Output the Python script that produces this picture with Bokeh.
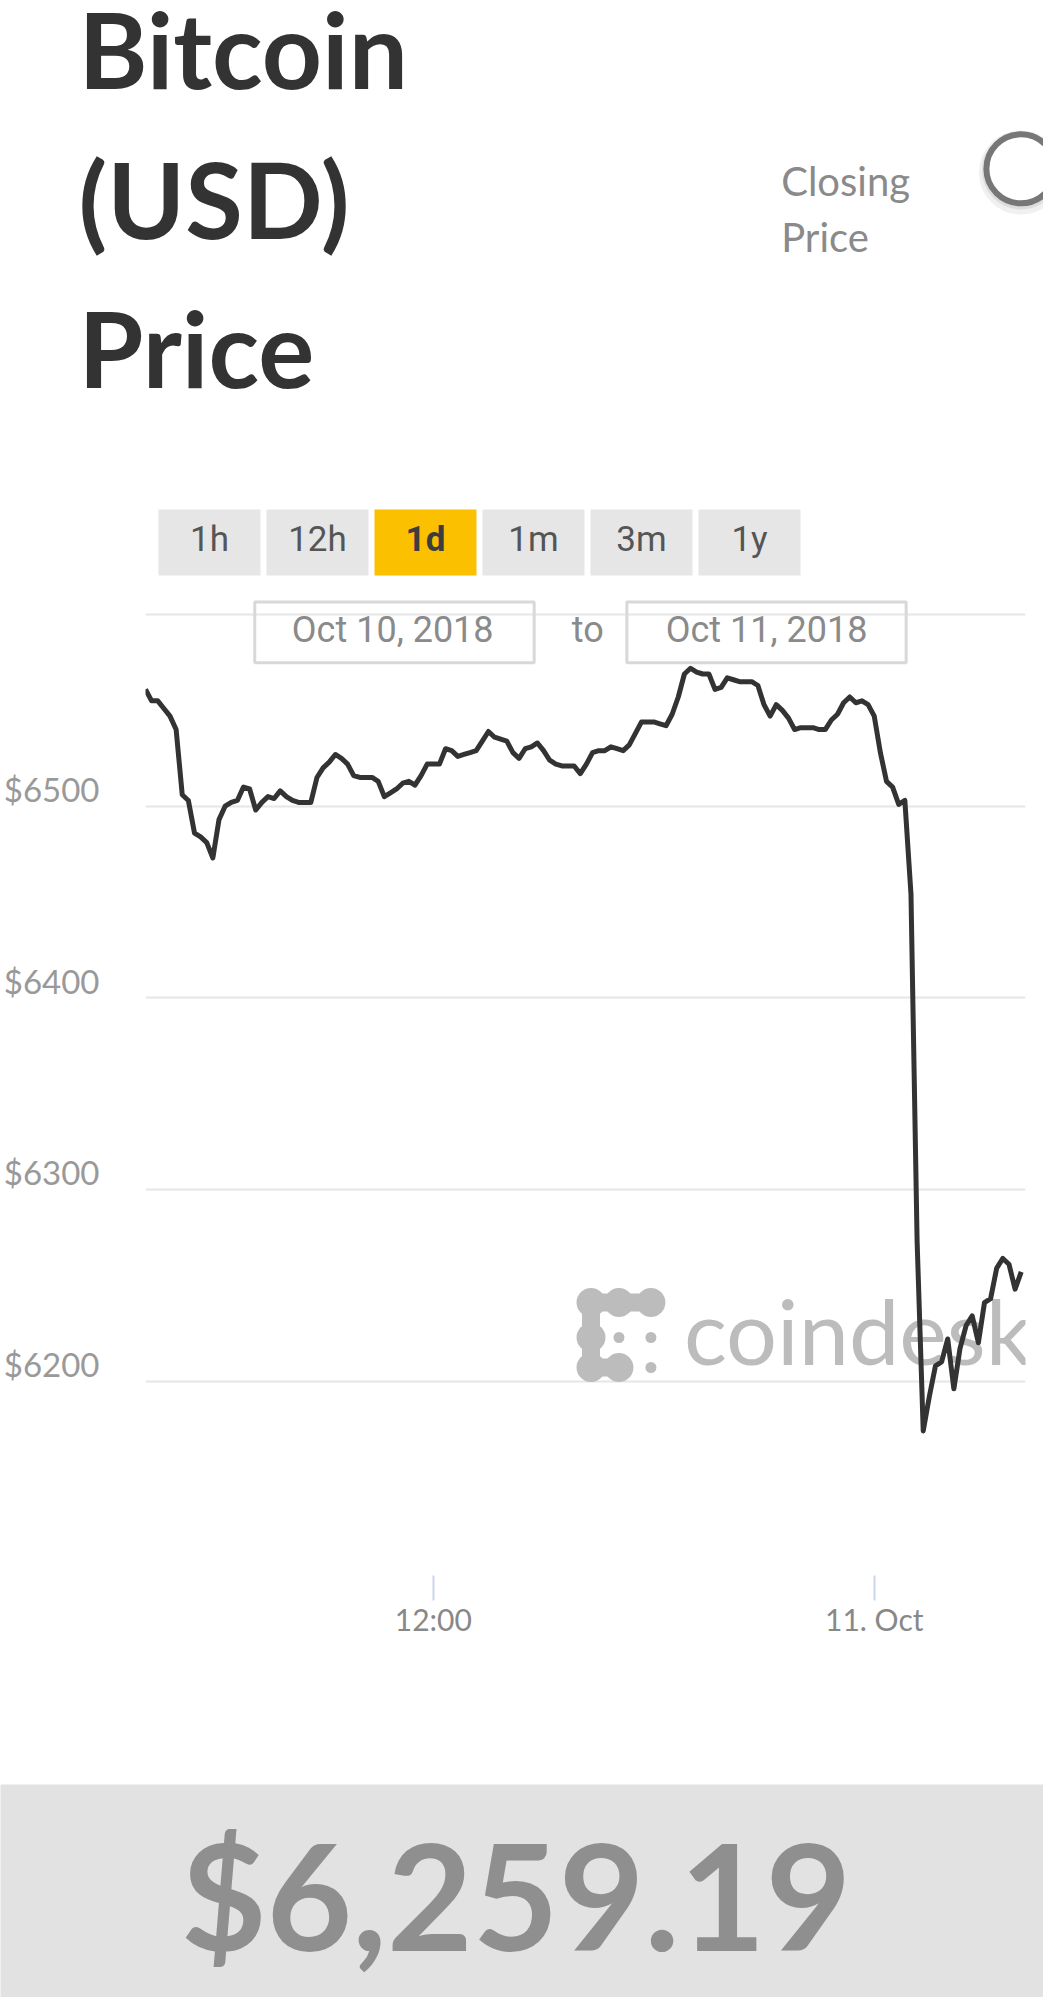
import pandas as pd
from bokeh.plotting import figure
from bokeh.layouts import column
from bokeh.models import Range1d, FixedTicker, LinearAxis, Grid
from bokeh.core.properties import value
from bokeh.embed import file_html
from bokeh.resources import INLINE

# ---------------- data ----------------
oct10_times = [
    "04:10", "04:20", "04:30", "04:40", "04:50",
    "05:00", "05:10", "05:20", "05:30", "05:40", "05:50",
    "06:00", "06:10", "06:20", "06:30", "06:40", "06:50",
    "07:00", "07:10", "07:20", "07:30", "07:40", "07:50",
    "08:00", "08:10", "08:20", "08:30", "08:40", "08:50",
    "09:00", "09:10", "09:20", "09:30", "09:40", "09:50",
    "10:00", "10:10", "10:20", "10:30", "10:40", "10:50",
    "11:00", "11:10", "11:20", "11:30", "11:40", "11:50",
    "12:00", "12:10", "12:20", "12:30", "12:40", "12:50",
    "13:00", "13:10", "13:20", "13:30", "13:40", "13:50",
    "14:00", "14:10", "14:20", "14:30", "14:40", "14:50",
    "15:00", "15:10", "15:20", "15:30", "15:40", "15:50",
    "16:00", "16:10", "16:20", "16:30", "16:40", "16:50",
    "17:00", "17:10", "17:20", "17:30", "17:40", "17:50",
    "18:00", "18:10", "18:20", "18:30", "18:40", "18:50",
    "19:00", "19:10", "19:20", "19:30", "19:40", "19:50",
    "20:00", "20:10", "20:20", "20:30", "20:40", "20:50",
    "21:00", "21:10", "21:20", "21:30", "21:40", "21:50",
    "22:00", "22:10", "22:20", "22:30", "22:40", "22:50",
    "23:00", "23:10", "23:20", "23:30", "23:40", "23:50",
]
oct10_prices = [
    6561, 6555, 6555, 6551, 6547,
    6540, 6506, 6503, 6486, 6484, 6481,
    6473, 6493, 6500, 6502, 6503, 6510,
    6509, 6498, 6502, 6505, 6504, 6508,
    6505, 6503, 6502, 6502, 6502, 6515,
    6520, 6523, 6527, 6525, 6522, 6516,
    6515, 6515, 6515, 6513, 6505, 6507,
    6509, 6512, 6513, 6511, 6516, 6522,
    6522, 6522, 6530, 6529, 6526, 6527,
    6528, 6529, 6534, 6539, 6536, 6535,
    6534, 6528, 6525, 6530, 6531, 6533,
    6529, 6524, 6522, 6521, 6521, 6521,
    6517, 6522, 6528, 6529, 6529, 6531,
    6530, 6529, 6532, 6538, 6544, 6544,
    6544, 6543, 6542, 6548, 6557, 6569,
    6572, 6570, 6569, 6569, 6561, 6562,
    6567, 6566, 6565, 6565, 6565, 6563,
    6553, 6547, 6553, 6550, 6546, 6540,
    6541, 6541, 6541, 6540, 6540, 6545,
    6548, 6554, 6557, 6554, 6555, 6553,
]
oct11_times = [
    "00:00", "00:10", "00:20", "00:30", "00:40", "00:50",
    "01:00", "01:10", "01:20", "01:30", "01:40", "01:50",
    "02:00", "02:10", "02:20", "02:30", "02:40", "02:50",
    "03:00", "03:10", "03:20", "03:30", "03:40", "03:50",
    "04:00",
]
oct11_prices = [
    6547, 6528, 6513, 6510, 6501, 6503,
    6454, 6273, 6174, 6192, 6208, 6210,
    6222, 6196, 6217, 6229, 6234, 6220,
    6241, 6243, 6259, 6264, 6261, 6248,
    6257,
]

y_ticks = [6200, 6300, 6400, 6500]
y_tick_labels = ["$6200", "$6300", "$6400", "$6500"]
grid_values = [6200, 6300, 6400, 6500, 6600]
x_tick_times = ["2018-10-10 12:00", "2018-10-11 00:00"]
x_tick_labels = ["12:00", "11. Oct"]
range_labels = ["1h", "12h", "1d", "1m", "3m", "1y"]
selected_range = "1d"
date_from = "Oct 10, 2018"
date_to = "Oct 11, 2018"
title_lines = ["Bitcoin", "(USD)", "Price"]
subtitle_lines = ["Closing", "Price"]
last_price = "$6,259.19"
watermark = "coindesk"

times = pd.to_datetime(["2018-10-10 " + t for t in oct10_times] +
                       ["2018-10-11 " + t for t in oct11_times])
prices = oct10_prices + oct11_prices

W = 1043
DARK = "#333333"
GREY_TXT = "#8a8a8a"
SANS = "Lato"


def bare(fig):
    for g in fig.grid:
        g.visible = False
    fig.outline_line_color = None
    return fig


# ---------------- header ----------------
H_A = 598
pa = bare(figure(width=W, height=H_A, x_range=Range1d(0, W), y_range=Range1d(H_A, 0),
                 output_backend="svg", toolbar_location=None, title=None,
                 x_axis_location=None, y_axis_location=None, min_border=0,
                 frame_align=False))

pa.text(x=[78, 78, 78], y=[47.5, 197.5, 346.5], text=title_lines,
        text_font=value(SANS), text_font_style="bold", text_font_size=value("105px"),
        text_color=DARK, text_baseline="alphabetic", text_align="left")

pa.text(x=[780.7, 780.7], y=[180.2, 236.5], text=subtitle_lines,
        text_font=value(SANS), text_font_size=value("40px"),
        text_color=GREY_TXT, text_baseline="alphabetic", text_align="left")

# toggle circle with soft shadow
pa.circle(x=[1020.4], y=[172.0], radius=36, fill_color=None,
          line_color="black", line_alpha=0.06, line_width=12)
pa.circle(x=[1020.4], y=[170.0], radius=35, fill_color=None,
          line_color="black", line_alpha=0.08, line_width=8)
pa.circle(x=[1020.4], y=[168.3], radius=34.5, fill_color="white",
          line_color="#777777", line_width=6)

# range buttons
lefts = [158 + i * 108 for i in range(len(range_labels))]
rights = [l + 102 for l in lefts]
centers = [l + 51 for l in lefts]
fills = ["#fbc000" if r == selected_range else "#e6e6e6" for r in range_labels]
pa.quad(left=lefts, right=rights, top=[509] * 6, bottom=[575] * 6,
        fill_color=fills, line_color=None)
for c, lab in zip(centers, range_labels):
    sel = lab == selected_range
    pa.text(x=[c], y=[539], text=[lab], text_font=value("Roboto"),
            text_font_style="bold" if sel else "normal",
            text_font_size=value("35px"),
            text_color="#3d3d3d" if sel else "#555555",
            text_align="center", text_baseline="alphabetic")

# ---------------- chart ----------------
H_B = 1186
FRAME_W, FRAME_H = 881, 977
y_lo, y_hi = 6098.55, 6608.4
lab_shift = 9.0
x_start = pd.Timestamp("2018-10-10 04:10")
x_end = pd.Timestamp("2018-10-11 04:07")

pb = bare(figure(width=W, height=H_B, x_axis_type="datetime",
                 x_range=Range1d(x_start, x_end), y_range=Range1d(y_lo, y_hi),
                 y_axis_location=None, output_backend="svg", toolbar_location=None,
                 title=None, frame_align=False,
                 min_border_left=144, min_border_right=18, min_border_top=0,
                 min_border_bottom=H_B - FRAME_H))
pb.extra_x_ranges = {"px": Range1d(0, FRAME_W)}
pb.extra_y_ranges = {"py": Range1d(FRAME_H, 0),
                     "lab": Range1d(y_lo - lab_shift, y_hi - lab_shift)}

pb.add_layout(Grid(dimension=1, ticker=FixedTicker(ticks=grid_values),
                   grid_line_color="#e6e6e6", grid_line_width=2))

lab_axis = LinearAxis(y_range_name="lab", ticker=FixedTicker(ticks=y_ticks),
                      major_label_overrides={float(t): l for t, l in zip(y_ticks, y_tick_labels)},
                      axis_line_color=None, major_tick_line_color=None,
                      minor_tick_line_color=None, major_tick_out=0, major_tick_in=0,
                      minor_tick_out=0, minor_tick_in=0, major_label_standoff=46,
                      major_label_text_font=SANS, major_label_text_font_size="33px",
                      major_label_text_color="#999999")
pb.add_layout(lab_axis, "left")

tick_ms = [float(v) for v in (pd.to_datetime(x_tick_times).astype("int64") // 10**6)]
xa = pb.xaxis[0]
xa.ticker = FixedTicker(ticks=tick_ms)
xa.major_label_overrides = {ms: lab for ms, lab in zip(tick_ms, x_tick_labels)}
xa.axis_line_color = None
xa.major_tick_line_color = "#ccd6eb"
xa.major_tick_line_width = 2
xa.major_tick_out = 25
xa.major_tick_in = 0
xa.minor_tick_line_color = None
xa.major_label_standoff = 0
xa.major_label_text_font = SANS
xa.major_label_text_font_size = "30px"
xa.major_label_text_color = "#888888"

# date range boxes (frame pixel coordinates)
pb.quad(left=[109.4, 481.9], right=[389.1, 761.5], top=[3.5, 3.5], bottom=[64.2, 64.2],
        fill_color=None, line_color="#d8d8d8", line_width=3,
        x_range_name="px", y_range_name="py")
pb.text(x=[247.5, 442.7, 621.7], y=[31, 31, 31], text=[date_from, "to", date_to],
        text_font=value("Roboto"), text_font_size=value("36px"), text_color=GREY_TXT,
        text_align="center", text_baseline="alphabetic",
        x_range_name="px", y_range_name="py")

# coindesk watermark
WM = "#bcbcbc"
bx = [446, 474, 506, 446, 446, 474]
by = [704, 704, 704, 739, 769, 769]
pb.segment(x0=[446, 474, 446, 446], y0=[704, 704, 704, 769],
           x1=[474, 506, 446, 474], y1=[704, 704, 769, 769],
           line_color=WM, line_width=18, x_range_name="px", y_range_name="py")
pb.circle(x=bx, y=by, radius=14.5, fill_color=WM, line_color=None,
          x_range_name="px", y_range_name="py")
pb.circle(x=[474, 506, 506], y=[739, 739, 769], radius=5.5, fill_color=WM, line_color=None,
          x_range_name="px", y_range_name="py")
pb.text(x=[539], y=[731], text=[watermark], text_font=value("Lato"),
        text_font_size=value("90px"), text_color=WM, text_align="left",
        text_baseline="alphabetic", x_range_name="px", y_range_name="py")

# price line
pb.line(x=times, y=prices, line_color=DARK, line_width=5, line_join="round")

# ---------------- footer ----------------
H_C = 1997 - H_A - H_B
pc = bare(figure(width=W, height=H_C, x_range=Range1d(0, W), y_range=Range1d(H_C, 0),
                 output_backend="svg", toolbar_location=None, title=None,
                 x_axis_location=None, y_axis_location=None, min_border=0,
                 frame_align=False,
                 background_fill_color="#e2e2e2", border_fill_color="#e2e2e2"))
pc.text(x=[515.5], y=[109], text=[last_price], text_font=value(SANS),
        text_font_style="bold", text_font_size=value("148px"), text_color="#8f8f8f",
        text_align="center", text_baseline="alphabetic")

layout = column(pa, pb, pc, spacing=0)
open("out.html", "w").write(file_html(layout, INLINE))
